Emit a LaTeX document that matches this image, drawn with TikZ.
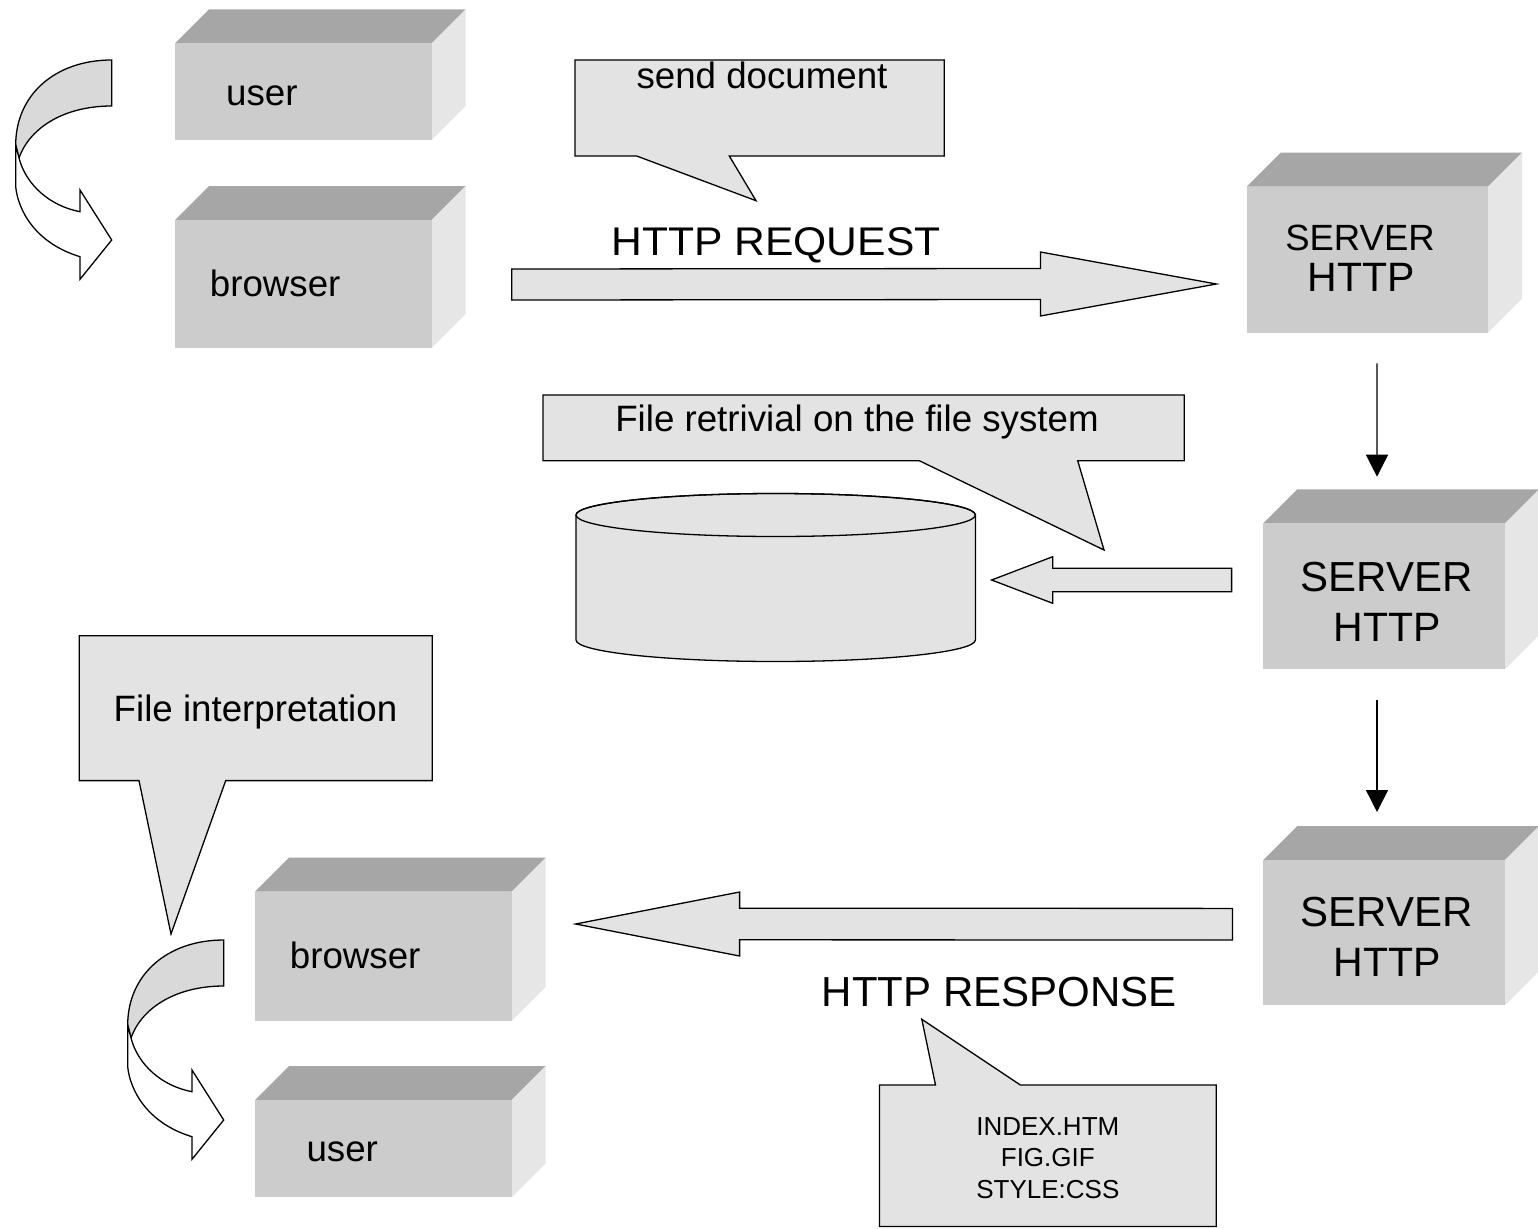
\documentclass[tikz,border=0pt]{standalone}
\usepackage{fontspec}
\setmainfont{Liberation Sans}
\usetikzlibrary{arrows.meta,calc}
\definecolor{topc}{HTML}{A6A6A6}
\definecolor{frontc}{HTML}{CCCCCC}
\definecolor{sidec}{HTML}{E6E6E6}
\definecolor{callc}{HTML}{E3E3E3}
\definecolor{backc}{HTML}{D9D9D9}
\tikzset{
  frontbox/.style={fill=frontc, draw=none, inner sep=0pt, outer sep=0pt},
  lbl/.style={inner sep=0pt, font=\fontsize{36.7}{44}\selectfont},
  lblsmall/.style={inner sep=0pt, font=\fontsize{36.5}{44}\selectfont},
  lblmid/.style={inner sep=0pt, font=\fontsize{41}{48}\selectfont},
  lblbig/.style={inner sep=0pt, font=\fontsize{42}{50}\selectfont},
  reqfont/.style={inner sep=0pt, font=\fontsize{40}{48}\selectfont},
  idxfont/.style={inner sep=0pt, font=\fontsize{26}{31}\selectfont},
  call/.style={fill=callc, draw=black, line width=1.3pt, line join=miter},
  blk/.style={fill=callc, draw=black, line width=1.3pt, line join=miter},
  varrow/.style={draw=black, line width=1.4pt, -{Triangle[length=22pt,width=22pt]}},
  curvback/.style={fill=backc, draw=black, line width=1.3pt},
  curvfront/.style={fill=white, draw=black, line width=1.3pt, line join=miter}
}
\newcommand\mycube[5]{%
  \fill[topc] (#2,#3) -- ({#2+34},{#3-34}) -- ({#4+34},{#3-34}) -- (#4,#3) -- cycle;
  \fill[sidec] (#4,#3) -- ({#4+34},{#3-34}) -- ({#4+34},{#5-34}) -- (#4,#5) -- cycle;
  \node[frontbox, minimum width={(#4-#2)*1pt}, minimum height={(#5-#3)*1pt}, anchor=north west] (#1) at (#2,#3) {};
}
\newcommand\blockarrow[5]{%
  \filldraw[blk] ($(#1)+(0,{-1*(#3)})$) -- ($(#2)+({-1*(#5)},{-1*(#3)})$) -- ($(#2)+({-1*(#5)},{-1*(#4)})$) -- (#2)
    -- ($(#2)+({-1*(#5)},#4)$) -- ($(#2)+({-1*(#5)},#3)$) -- ($(#1)+(0,#3)$) -- cycle;
}
\newcommand\curvedarrow{%
  \filldraw[curvback] (111.7,60) .. controls (55,60) and (15.7,95) .. (15.7,145) -- (19,158)
    .. controls (30,127) and (65,106) .. (111.7,106) -- cycle;
  \filldraw[curvfront] (15.7,145) -- (15.7,186.7) .. controls (18,210) and (35,243) .. (80,256.7)
    -- (80,279.3) -- (111.7,240) -- (80,190) -- (80,211.7)
    .. controls (50,206) and (26,185) .. (19,158) -- cycle;
}
\begin{document}
\begin{tikzpicture}[x=1pt,y=-1pt]
\useasboundingbox (0,0) rectangle (1538,1228);
\fill[white] (0,0) rectangle (1538,1228);

% cubes
\mycube{user1}{175}{43.3}{431.7}{140}
\mycube{browser1}{175}{220}{431.7}{348}
\mycube{srv1}{1246.7}{186.7}{1488}{332.7}
\mycube{srv2}{1263.3}{523.3}{1505}{669}
\mycube{srv3}{1263.3}{860}{1505}{1005}
\mycube{browser2}{255}{891.7}{511.7}{1021}
\mycube{user2}{255}{1100}{511.7}{1197.3}

% cube labels
\node[lbl, anchor=base west] (user1t) at (226,106) {user};
\node[lbl, anchor=base west] (browser1t) at (209.7,296.7) {browser};
\node[lblsmall, anchor=base] (srv1a) at (1360,250) {SERVER};
\node[lblmid, anchor=base] (srv1b) at (1361.5,291.7) {HTTP};
\node[lblbig, anchor=base] (srv2a) at (1386.5,591.7) {SERVER};
\node[lblmid, anchor=base] (srv2b) at (1387,641.7) {HTTP};
\node[lblbig, anchor=base] (srv3a) at (1386.5,926.7) {SERVER};
\node[lblmid, anchor=base] (srv3b) at (1387,976.7) {HTTP};
\node[lbl, anchor=base west] (browser2t) at (289.7,968.3) {browser};
\node[lbl, anchor=base west] (user2t) at (306.3,1161.7) {user};

% curved arrows
\curvedarrow
\begin{scope}[shift={(112,880)}]
\curvedarrow
\end{scope}

% database cylinder
\node[inner sep=0pt, minimum width=399.4pt, minimum height=168pt] (db) at (775.7,578) {};
\filldraw[fill=callc, draw=black, line width=1.3pt]
  (576,515) -- (576,640) arc[start angle=180, end angle=0, x radius=199.7, y radius=21.5]
  -- (975.4,515) arc[start angle=0, end angle=-180, x radius=199.7, y radius=21.5] -- cycle;
\draw[line width=1.3pt] (775.7,515) ellipse[x radius=199.7, y radius=21.5];

% callouts
\filldraw[call] (575,60) -- (944.3,60) -- (944.3,156) -- (729.3,156) -- (756,200.7) -- (636.7,156) -- (575,156) -- cycle;
\node[lbl, anchor=base] (sendt) at (762,88.3) {send document};

\filldraw[call] (543,395) -- (1184.3,395) -- (1184.3,460.7) -- (1077.7,460.7) -- (1104,550) -- (919.3,460.7) -- (543,460.7) -- cycle;
\node[lbl, anchor=base] (fst) at (857,431.5) {File retrivial on the file system};

\filldraw[call] (79.3,635.7) -- (432.3,635.7) -- (432.3,780.6) -- (225.7,780.6) -- (171,934) -- (139,780.6) -- (79.3,780.6) -- cycle;
\node[lbl, anchor=base] (fit) at (255.5,721.5) {File interpretation};

\filldraw[call] (879.4,1085) -- (935.5,1085) -- (921.8,1019.3) -- (1020.4,1085) -- (1216.3,1085) -- (1216.3,1226.5) -- (879.4,1226.5) -- cycle;
\node[idxfont, anchor=base] (idx1) at (1047.8,1135) {INDEX.HTM};
\node[idxfont, anchor=base] (idx2) at (1047.8,1166.7) {FIG.GIF};
\node[idxfont, anchor=base] (idx3) at (1047.8,1198.3) {STYLE:CSS};

% block arrows
\coordinate (reqA) at ($(browser1.east)+(80.1,0.5)$);
\coordinate (reqB) at ($(srv1.west)+(-30.3,24.3)$);
\blockarrow{reqA}{reqB}{15.5}{32}{176}
\node[reqfont, anchor=base] (reqt) at (776,255) {\scalebox{1.065}[1]{HTTP REQUEST}};

\coordinate (fsA) at ($(srv2.west)+(-31.7,-16.15)$);
\coordinate (fsB) at ($(db.east)+(16,2)$);
\blockarrow{fsA}{fsB}{11.7}{23.3}{-61.1}

\coordinate (resA) at ($(srv3.west)+(-30.8,-8.3)$);
\coordinate (resB) at ($(browser2.east)+(63.9,-32.35)$);
\blockarrow{resA}{resB}{15.8}{32}{-164}
\node[lblbig, anchor=base] (rest) at (999.2,1006.7) {HTTP RESPONSE};

% vertical arrows
\draw[varrow] ($(srv1.south)+(9.65,30.6)$) -- ($(srv2.north)+(-7.15,-46.6)$);
\draw[varrow] ($(srv2.south)+(-7.15,31)$) -- ($(srv3.north)+(-7.15,-48)$);
\end{tikzpicture}
\end{document}
